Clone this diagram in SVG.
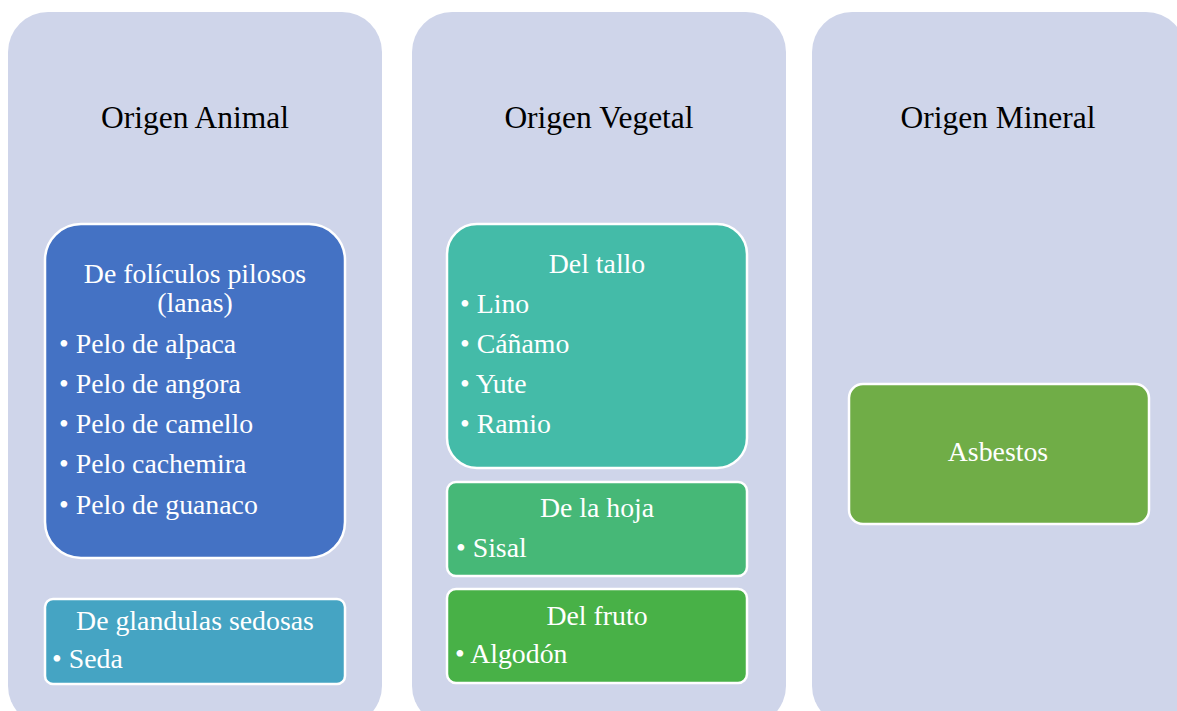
<svg xmlns="http://www.w3.org/2000/svg" width="1177" height="711" viewBox="0 0 1177 711">
<style>
.panel{fill:#CFD5EA}
.box{stroke:#FFFFFF;stroke-width:2.5}
.title{font-size:31.5px;fill:#000000;text-anchor:middle}
.t{font-size:27.8px;fill:#FFFFFF}
.c{text-anchor:middle}
</style>
<rect width="1177" height="711" fill="#FFFFFF"/>
<g font-family="'Liberation Serif', 'Times New Roman', serif">
<g id="panel-animal">
<rect class="panel" x="8" y="12" width="374" height="714" rx="40"/>
<text class="title" x="195" y="128">Origen Animal</text>
</g>
<g id="panel-vegetal">
<rect class="panel" x="412" y="12" width="374" height="714" rx="40"/>
<text class="title" x="599" y="128">Origen Vegetal</text>
</g>
<g id="panel-mineral">
<rect class="panel" x="812" y="12" width="374" height="714" rx="40"/>
<text class="title" x="998" y="128">Origen Mineral</text>
</g>
<g id="foliculos">
<rect class="box" x="45" y="224" width="300" height="334" rx="36" fill="#4472C4"/>
<text class="t c" x="195" y="283">De folículos pilosos</text>
<text class="t c" x="195" y="312">(lanas)</text>
<text class="t" x="59" y="353">• Pelo de alpaca</text>
<text class="t" x="59" y="393">• Pelo de angora</text>
<text class="t" x="59" y="433">• Pelo de camello</text>
<text class="t" x="59" y="473">• Pelo cachemira</text>
<text class="t" x="59" y="514">• Pelo de guanaco</text>
</g>
<g id="glandulas">
<rect class="box" x="45" y="599" width="300" height="85" rx="8" fill="#45A4C3"/>
<text class="t c" x="195" y="630">De glandulas sedosas</text>
<text class="t" x="52" y="668">• Seda</text>
</g>
<g id="tallo">
<rect class="box" x="447" y="224" width="300" height="244" rx="30" fill="#44BBA8"/>
<text class="t c" x="597" y="273">Del tallo</text>
<text class="t" x="460" y="313">• Lino</text>
<text class="t" x="460" y="353">• Cáñamo</text>
<text class="t" x="460" y="393">• Yute</text>
<text class="t" x="460" y="433">• Ramio</text>
</g>
<g id="hoja">
<rect class="box" x="447" y="482" width="300" height="94" rx="9" fill="#46B877"/>
<text class="t c" x="597" y="517">De la hoja</text>
<text class="t" x="456" y="557">• Sisal</text>
</g>
<g id="fruto">
<rect class="box" x="447" y="589" width="300" height="94" rx="9" fill="#48B147"/>
<text class="t c" x="597" y="625">Del fruto</text>
<text class="t" x="455" y="663">• Algodón</text>
</g>
<g id="asbestos">
<rect class="box" x="849" y="384" width="300" height="140" rx="14" fill="#70AD47"/>
<text class="t c" x="998" y="461">Asbestos</text>
</g>
</g>
<g id="connectors"></g>
</svg>
